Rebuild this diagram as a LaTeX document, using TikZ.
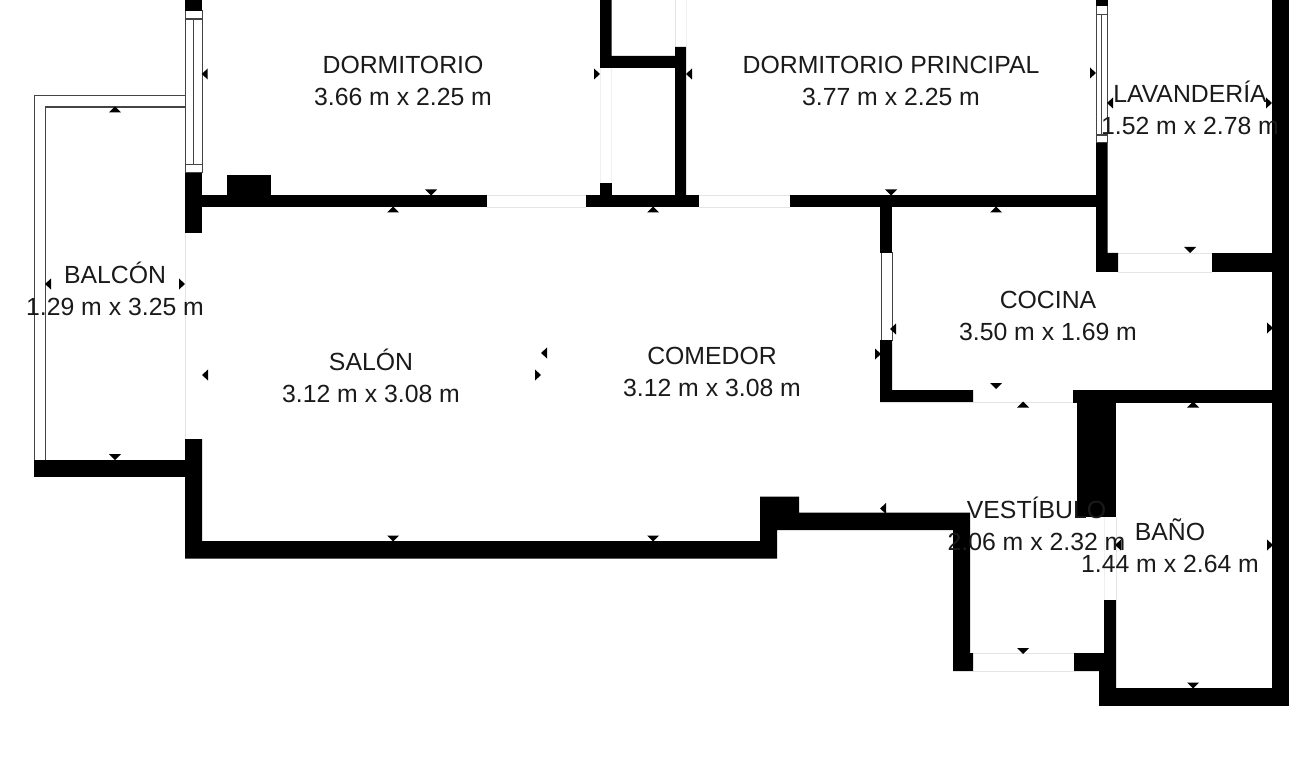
\documentclass[tikz,border=0pt]{standalone}
\usepackage{fontspec}
\setmainfont{Liberation Sans}
\definecolor{inktxt}{HTML}{1A1A1A}
\definecolor{framegray}{HTML}{444444}
\definecolor{faint}{HTML}{E4E4E4}
\definecolor{fainter}{HTML}{F0F0F0}
\tikzset{
  wall/.style={fill=black,draw=none},
  framing/.style={draw=framegray,line width=1.1pt},
  pane/.style={draw=framegray,fill=white,line width=1pt},
  faintline/.style={draw=faint,line width=0.8pt},
  fainterline/.style={draw=fainter,line width=0.8pt},
  marker/.style={fill=black,draw=none},
  room/.style={text=inktxt,align=center,inner sep=0pt,font=\fontsize{24.8}{32}\selectfont}
}
\begin{document}
\begin{tikzpicture}[x=1pt,y=-1pt]
\useasboundingbox (0,0) rectangle (1315,778);
\fill[white] (0,0) rectangle (1315,778);
\begin{scope}
\clip (0,0) rectangle (1315,778);
% faint opening lines
\draw[faintline] (185,233) -- (185,439);
\draw[faintline] (487,195.5) -- (585.5,195.5) (487,207) -- (585.5,207);
\draw[faintline] (699,195.5) -- (790,195.5) (699,207) -- (790,207);
\draw[fainterline] (600,68) -- (600,183) (611.5,68) -- (611.5,183);
\draw[faintline] (675,0) -- (675,47);
\draw[fainterline] (686,0) -- (686,47);
\draw[faintline] (1118,253) -- (1212,253) (1118,272) -- (1212,272);
\draw[faintline] (973,402) -- (1073,402);
\draw[faintline] (973,653) -- (1074,653) (973,671) -- (1074,671);
\draw[faintline] (1116,517) -- (1116,600);
\draw[fainterline] (1104,517) -- (1104,600);
% balcony railing
\draw[framing] (185,95.5) -- (34.5,95.5) -- (34.5,460);
\draw[framing] (185,107) -- (45.5,107) -- (45.5,460);
% windows
\draw[pane] (185.5,11) rectangle (202,173);
\draw[framing] (185.5,19) -- (202,19) (185.5,164.5) -- (202,164.5) (193.5,19) -- (193.5,164.5);
\draw[pane] (1096.5,6) rectangle (1107.5,143);
\draw[framing] (1096.5,14.5) -- (1107.5,14.5) (1096.5,135) -- (1107.5,135) (1101.5,14.5) -- (1101.5,135);
\draw[pane] (881.5,253) rectangle (892,340);
% walls
\fill[wall] (185,0) rectangle (202,11);
\fill[wall] (185,173) rectangle (202,233);
\fill[wall] (202,195.5) rectangle (487,207);
\fill[wall] (227,175.5) rectangle (271,207);
\fill[wall] (585.5,195.5) rectangle (699,207);
\fill[wall] (600,183) rectangle (611.5,195.5);
\fill[wall] (600,0) -- (611.5,0) -- (611.5,56) -- (675,56) -- (675,47) -- (686,47) -- (686,195.5) -- (675,195.5) -- (675,68) -- (600,68) -- cycle;
\fill[wall] (790,195.5) rectangle (1096,207);
\fill[wall] (1096,0) rectangle (1107.5,6);
\fill[wall] (1096,143) -- (1107.5,143) -- (1107.5,253) -- (1118,253) -- (1118,272) -- (1096,272) -- cycle;
\fill[wall] (1212,253) rectangle (1272,272);
\fill[wall] (1272,0) rectangle (1289,705.5);
\fill[wall] (1099,688) rectangle (1289,705.5);
\fill[wall] (880,207) rectangle (892,253);
\fill[wall] (880,340) -- (892,340) -- (892,390) -- (973,390) -- (973,402) -- (880,402) -- cycle;
\fill[wall] (1073,390) rectangle (1272,402.5);
\fill[wall] (1077,402) rectangle (1116,517);
\fill[wall] (34,460) rectangle (185,477);
\fill[wall] (185,439) -- (202,439) -- (202,541) -- (760,541) -- (760,496.5) -- (799,496.5) -- (799,512.5) -- (970,512.5) -- (970,653) -- (973,653) -- (973,671) -- (953,671) -- (953,530) -- (777,530) -- (777,558.5) -- (185,558.5) -- cycle;
\fill[wall] (1104,600) -- (1116,600) -- (1116,705) -- (1099,705) -- (1099,671) -- (1074,671) -- (1074,653) -- (1104,653) -- cycle;
% markers
\foreach \x/\y in {115/109.5,393/209.5,653/209.5,996/209.5,1023/404.5,1193/404.5}
  \fill[marker] (\x,\y) +(-6,3) -- +(6,3) -- +(0,-3) -- cycle;
\foreach \x/\y in {431/192.5,891/192.5,1190/250,996/386,115/457,393/538.5,653/538.5,1023/651,1193/685.5}
  \fill[marker] (\x,\y) +(-6,-3) -- +(6,-3) -- +(0,3) -- cycle;
\foreach \x/\y in {204.7/74,689/74,1110/103,893/329,205/375,544/353,883/508.5,1118/545,48/284}
  \fill[marker] (\x,\y) +(3,-5.5) -- +(3,5.5) -- +(-3,0) -- cycle;
\foreach \x/\y in {597/74,1093/73,1269/103,878/354,182/284,538/375,1270/328,1102/508,1270/545}
  \fill[marker] (\x,\y) +(-3,-5.5) -- +(-3,5.5) -- +(3,0) -- cycle;
% labels
\node[room] (dorm) at (403,80.5) {DORMITORIO\\3.66 m x 2.25 m};
\node[room] (princ) at (891,80.5) {DORMITORIO PRINCIPAL\\3.77 m x 2.25 m};
\node[room] (lav) at (1190,108) {LAVANDERÍA\\1.52 m x 2.78 m};
\node[room] (balc) at (115,289) {BALCÓN\\1.29 m x 3.25 m};
\node[room] (salon) at (371,376) {SALÓN\\3.12 m x 3.08 m};
\node[room] (comedor) at (712,372) {COMEDOR\\3.12 m x 3.08 m};
\node[room] (cocina) at (1048,315.5) {COCINA\\3.50 m x 1.69 m};
\node[room] (vest) at (1036.5,524) {VESTÍBULO\\2.06 m x 2.32 m};
\node[room] (bano) at (1170,546) {BAÑO\\1.44 m x 2.64 m};
\end{scope}
\end{tikzpicture}
\end{document}
